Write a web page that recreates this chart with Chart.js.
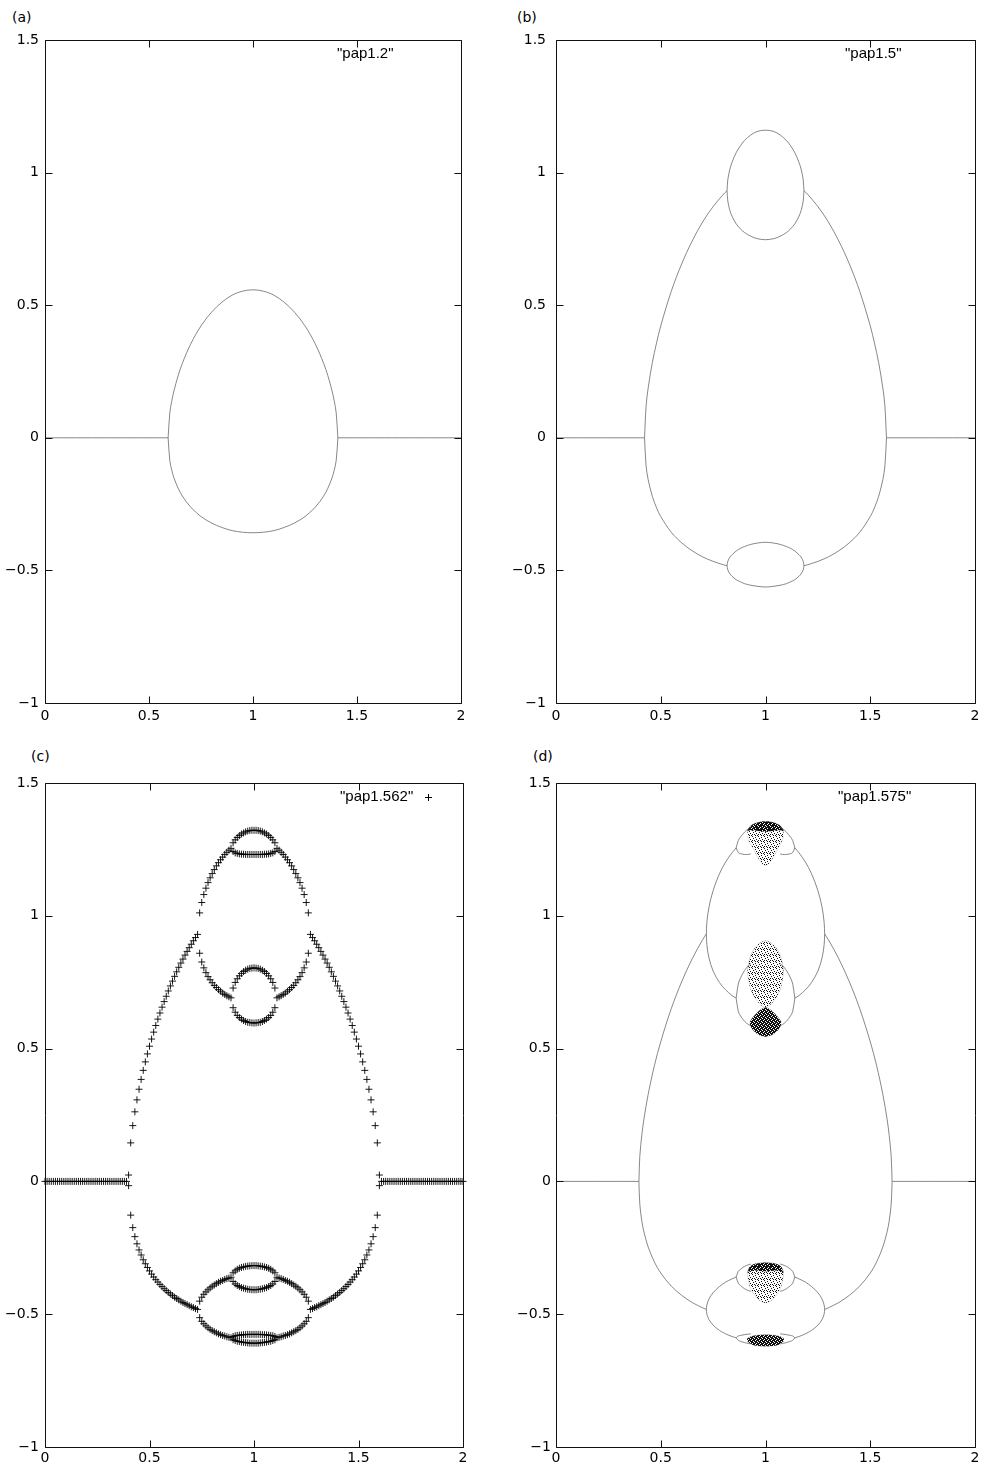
<!DOCTYPE html>
<html>
<head>
<meta charset="utf-8">
<script src="https://cdn.jsdelivr.net/npm/chart.js@4.4.1/dist/chart.umd.min.js"></script>
<style>
  body { margin: 0; background: #fff; width: 985px; height: 1470px; position: relative; overflow: hidden;
         font-family: "DejaVu Sans", Arial, sans-serif; }
  canvas { position: absolute; }
  .lab { position: absolute; font-size: 14px; line-height: 15px; color: #000; }
</style>
</head>
<body>
<div class="lab" style="left:12px;top:10px">(a)</div>
<div class="lab" style="left:517px;top:10px">(b)</div>
<div class="lab" style="left:31px;top:749px">(c)</div>
<div class="lab" style="left:533px;top:749px">(d)</div>
<canvas id="ca" width="492" height="735" style="left:0;top:0"></canvas>
<canvas id="cb" width="485" height="735" style="left:500px;top:0"></canvas>
<canvas id="cc" width="492" height="730" style="left:0;top:740px"></canvas>
<canvas id="cd" width="485" height="730" style="left:500px;top:740px"></canvas>
<script>
// ---- (a) pap1.2 ----
var a_zero_left = [0, 0.592];
var a_zero_right = [1.408, 2];
var a_zero_y = [0, 0];
var a_egg_x = [0.592, 0.600, 0.610, 0.620, 0.640, 0.660, 0.700, 0.750, 0.800, 0.850, 0.900, 0.950, 1.000,
               1.050, 1.100, 1.150, 1.200, 1.250, 1.300, 1.340, 1.360, 1.380, 1.390, 1.400, 1.408];
var a_egg_up = [0, 0.094, 0.141, 0.177, 0.234, 0.280, 0.353, 0.422, 0.473, 0.511, 0.538, 0.553, 0.558,
                0.553, 0.538, 0.511, 0.473, 0.422, 0.353, 0.280, 0.234, 0.177, 0.141, 0.094, 0];
var a_egg_lo = [0, -0.086, -0.124, -0.151, -0.190, -0.219, -0.261, -0.297, -0.321, -0.338, -0.350, -0.356, -0.358,
                -0.356, -0.350, -0.338, -0.321, -0.297, -0.261, -0.219, -0.190, -0.151, -0.124, -0.086, 0];

// ---- (b) pap1.5 ----
var b_zero_left = [0, 0.4226];
var b_zero_right = [1.5774, 2];
var b_zero_y = [0, 0];
var b_p2l_x = [0.4226, 0.43, 0.44, 0.46, 0.48, 0.50, 0.55, 0.60, 0.65, 0.70, 0.75, 0.80, 0.8165];
var b_p2l_up = [0, 0.119, 0.188, 0.284, 0.358, 0.422, 0.552, 0.656, 0.742, 0.814, 0.872, 0.919, 0.932];
var b_p2l_lo = [0, -0.106, -0.158, -0.221, -0.264, -0.297, -0.356, -0.396, -0.426, -0.449, -0.466, -0.479, -0.482];
var b_p2r_x = [1.1835, 1.20, 1.25, 1.30, 1.35, 1.40, 1.45, 1.50, 1.52, 1.54, 1.56, 1.57, 1.5774];
var b_p2r_up = [0.932, 0.919, 0.872, 0.814, 0.742, 0.656, 0.552, 0.422, 0.358, 0.284, 0.188, 0.119, 0];
var b_p2r_lo = [-0.482, -0.479, -0.466, -0.449, -0.426, -0.396, -0.356, -0.297, -0.264, -0.221, -0.158, -0.106, 0];
var b_p4_x = [0.8165, 0.82, 0.83, 0.84, 0.86, 0.88, 0.90, 0.93, 0.96, 1.00,
              1.04, 1.07, 1.10, 1.12, 1.14, 1.16, 1.17, 1.18, 1.1835];
var b_p4_a = [0.932, 0.973, 1.013, 1.038, 1.075, 1.101, 1.121, 1.142, 1.155, 1.160,
              1.155, 1.142, 1.121, 1.101, 1.075, 1.038, 1.013, 0.973, 0.932];
var b_p4_b = [0.932, 0.893, 0.857, 0.836, 0.807, 0.788, 0.774, 0.760, 0.751, 0.747,
              0.751, 0.760, 0.774, 0.788, 0.807, 0.836, 0.857, 0.893, 0.932];
var b_p4_c = [-0.482, -0.466, -0.450, -0.441, -0.427, -0.417, -0.410, -0.402, -0.397, -0.394,
              -0.397, -0.402, -0.410, -0.417, -0.427, -0.441, -0.450, -0.466, -0.482];
var b_p4_d = [-0.482, -0.498, -0.513, -0.522, -0.535, -0.543, -0.550, -0.556, -0.560, -0.5625,
              -0.560, -0.556, -0.550, -0.543, -0.535, -0.522, -0.513, -0.498, -0.482];

// ---- (c) pap1.562 (crosses every 0.01) ----
var c_flat_x = [0.00, 0.01, 0.02, 0.03, 0.04, 0.05, 0.06, 0.07, 0.08, 0.09, 0.10, 0.11, 0.12, 0.13, 0.14, 0.15,
                0.16, 0.17, 0.18, 0.19, 0.20, 0.21, 0.22, 0.23, 0.24, 0.25, 0.26, 0.27, 0.28, 0.29, 0.30, 0.31,
                0.32, 0.33, 0.34, 0.35, 0.36, 0.37, 0.38, 0.39,
                1.61, 1.62, 1.63, 1.64, 1.65, 1.66, 1.67, 1.68, 1.69, 1.70, 1.71, 1.72, 1.73, 1.74, 1.75, 1.76,
                1.77, 1.78, 1.79, 1.80, 1.81, 1.82, 1.83, 1.84, 1.85, 1.86, 1.87, 1.88, 1.89, 1.90, 1.91, 1.92,
                1.93, 1.94, 1.95, 1.96, 1.97, 1.98, 1.99, 2.00];
var c_flat_y = [0, 0, 0, 0, 0, 0, 0, 0, 0, 0, 0, 0, 0, 0, 0, 0, 0, 0, 0, 0,
                0, 0, 0, 0, 0, 0, 0, 0, 0, 0, 0, 0, 0, 0, 0, 0, 0, 0, 0, 0,
                0, 0, 0, 0, 0, 0, 0, 0, 0, 0, 0, 0, 0, 0, 0, 0, 0, 0, 0, 0,
                0, 0, 0, 0, 0, 0, 0, 0, 0, 0, 0, 0, 0, 0, 0, 0, 0, 0, 0, 0];
var c_edge_x = [0.40, 0.40, 1.60, 1.60];
var c_edge_y = [0.024, -0.016, 0.024, -0.016];
var c_p2_x = [0.41, 0.42, 0.43, 0.44, 0.45, 0.46, 0.47, 0.48, 0.49, 0.50, 0.51, 0.52, 0.53, 0.54, 0.55, 0.56, 0.57,
              0.58, 0.59, 0.60, 0.61, 0.62, 0.63, 0.64, 0.65, 0.66, 0.67, 0.68, 0.69, 0.70, 0.71, 0.72, 0.73,
              1.27, 1.28, 1.29, 1.30, 1.31, 1.32, 1.33, 1.34, 1.35, 1.36, 1.37, 1.38, 1.39, 1.40, 1.41, 1.42,
              1.43, 1.44, 1.45, 1.46, 1.47, 1.48, 1.49, 1.50, 1.51, 1.52, 1.53, 1.54, 1.55, 1.56, 1.57, 1.58, 1.59];
var c_p2_up = [0.145, 0.210, 0.262, 0.307, 0.347, 0.384, 0.418, 0.450, 0.480, 0.509, 0.536, 0.562, 0.587, 0.611,
               0.634, 0.656, 0.677, 0.697, 0.717, 0.736, 0.754, 0.772, 0.789, 0.806, 0.822, 0.837, 0.852, 0.866,
               0.880, 0.893, 0.906, 0.918, 0.930,
               0.930, 0.918, 0.906, 0.893, 0.880, 0.866, 0.852, 0.837, 0.822, 0.806, 0.789, 0.772, 0.754, 0.736,
               0.717, 0.697, 0.677, 0.656, 0.634, 0.611, 0.587, 0.562, 0.536, 0.509, 0.480, 0.450, 0.418, 0.384,
               0.347, 0.307, 0.262, 0.210, 0.145];
var c_p2_lo = [-0.127, -0.174, -0.208, -0.235, -0.258, -0.277, -0.295, -0.310, -0.324, -0.337, -0.349, -0.360,
               -0.370, -0.379, -0.388, -0.396, -0.404, -0.411, -0.418, -0.424, -0.430, -0.436, -0.441, -0.446,
               -0.451, -0.456, -0.460, -0.464, -0.468, -0.472, -0.475, -0.479, -0.482,
               -0.482, -0.479, -0.475, -0.472, -0.468, -0.464, -0.460, -0.456, -0.451, -0.446, -0.441, -0.436,
               -0.430, -0.424, -0.418, -0.411, -0.404, -0.396, -0.388, -0.379, -0.370, -0.360, -0.349, -0.337,
               -0.324, -0.310, -0.295, -0.277, -0.258, -0.235, -0.208, -0.174, -0.127];
var c_p4_x = [0.74, 0.75, 0.76, 0.77, 0.78, 0.79, 0.80, 0.81, 0.82, 0.83, 0.84, 0.85, 0.86, 0.87, 0.88, 0.89,
              1.11, 1.12, 1.13, 1.14, 1.15, 1.16, 1.17, 1.18, 1.19, 1.20, 1.21, 1.22, 1.23, 1.24, 1.25, 1.26];
var c_p4_a = [1.011, 1.050, 1.080, 1.104, 1.125, 1.143, 1.159, 1.174, 1.188, 1.200, 1.211, 1.221, 1.231, 1.239, 1.247, 1.254,
              1.254, 1.247, 1.239, 1.231, 1.221, 1.211, 1.200, 1.188, 1.174, 1.159, 1.143, 1.125, 1.104, 1.080, 1.050, 1.011];
var c_p4_b = [0.859, 0.826, 0.804, 0.786, 0.771, 0.759, 0.748, 0.738, 0.730, 0.722, 0.716, 0.709, 0.704, 0.699, 0.695, 0.691,
              0.691, 0.695, 0.699, 0.704, 0.709, 0.716, 0.722, 0.730, 0.738, 0.748, 0.759, 0.771, 0.786, 0.804, 0.826, 0.859];
var c_p4_c = [-0.451, -0.436, -0.425, -0.416, -0.408, -0.401, -0.395, -0.390, -0.385, -0.380, -0.376, -0.373, -0.369, -0.366, -0.364, -0.361,
              -0.361, -0.364, -0.366, -0.369, -0.373, -0.376, -0.380, -0.385, -0.390, -0.395, -0.401, -0.408, -0.416, -0.425, -0.436, -0.451];
var c_p4_d = [-0.513, -0.527, -0.536, -0.544, -0.551, -0.557, -0.562, -0.566, -0.570, -0.574, -0.577, -0.580, -0.582, -0.585, -0.587, -0.589,
              -0.589, -0.587, -0.585, -0.582, -0.580, -0.577, -0.574, -0.570, -0.566, -0.562, -0.557, -0.551, -0.544, -0.536, -0.527, -0.513];
var c_p8_x = [0.90, 0.91, 0.92, 0.93, 0.94, 0.95, 0.96, 0.97, 0.98, 0.99, 1.00, 1.01, 1.02, 1.03, 1.04, 1.05, 1.06, 1.07, 1.08, 1.09, 1.10];
var c_p8_1a = [1.275, 1.286, 1.295, 1.302, 1.308, 1.312, 1.316, 1.319, 1.321, 1.322, 1.322, 1.322, 1.321, 1.319, 1.316, 1.312, 1.308, 1.302, 1.295, 1.286, 1.275];
var c_p8_1b = [1.242, 1.237, 1.235, 1.233, 1.232, 1.232, 1.231, 1.231, 1.231, 1.231, 1.231, 1.231, 1.231, 1.231, 1.231, 1.232, 1.232, 1.233, 1.235, 1.237, 1.242];
var c_p8_2a = [0.728, 0.749, 0.763, 0.774, 0.783, 0.790, 0.795, 0.799, 0.802, 0.803, 0.804, 0.803, 0.802, 0.799, 0.795, 0.790, 0.783, 0.774, 0.763, 0.749, 0.728];
var c_p8_2b = [0.654, 0.637, 0.625, 0.617, 0.611, 0.606, 0.602, 0.599, 0.598, 0.597, 0.596, 0.597, 0.598, 0.599, 0.602, 0.606, 0.611, 0.617, 0.625, 0.637, 0.654];
var c_p8_3a = [-0.344, -0.337, -0.331, -0.327, -0.324, -0.322, -0.320, -0.319, -0.318, -0.317, -0.317, -0.317, -0.318, -0.319, -0.320, -0.322, -0.324, -0.327, -0.331, -0.337, -0.344];
var c_p8_3b = [-0.377, -0.386, -0.392, -0.396, -0.400, -0.402, -0.404, -0.406, -0.407, -0.408, -0.408, -0.408, -0.407, -0.406, -0.404, -0.402, -0.400, -0.396, -0.392, -0.386, -0.377];
var c_p8_4a = [-0.584, -0.581, -0.580, -0.579, -0.578, -0.577, -0.577, -0.576, -0.576, -0.576, -0.576, -0.576, -0.576, -0.576, -0.577, -0.577, -0.578, -0.579, -0.580, -0.581, -0.584];
var c_p8_4b = [-0.596, -0.599, -0.602, -0.603, -0.605, -0.606, -0.607, -0.608, -0.609, -0.609, -0.609, -0.609, -0.609, -0.608, -0.607, -0.606, -0.605, -0.603, -0.602, -0.599, -0.596];

// ---- (d) pap1.575 ----
var d_zero_left = [0, 0.3958];
var d_zero_right = [1.6042, 2];
var d_zero_y = [0, 0];
var d_p2l_x = [0.3958, 0.40, 0.41, 0.42, 0.44, 0.47, 0.50, 0.55, 0.60, 0.65, 0.70, 0.7177];
var d_p2l_up = [0, 0.094, 0.177, 0.236, 0.328, 0.437, 0.526, 0.650, 0.752, 0.838, 0.910, 0.932];
var d_p2l_lo = [0, -0.086, -0.151, -0.191, -0.247, -0.304, -0.345, -0.394, -0.429, -0.456, -0.476, -0.482];
var d_p2r_x = [1.2823, 1.30, 1.35, 1.40, 1.45, 1.50, 1.53, 1.56, 1.58, 1.59, 1.60, 1.6042];
var d_p2r_up = [0.932, 0.910, 0.838, 0.752, 0.650, 0.526, 0.437, 0.328, 0.236, 0.177, 0.094, 0];
var d_p2r_lo = [-0.482, -0.476, -0.456, -0.429, -0.394, -0.345, -0.304, -0.247, -0.191, -0.151, -0.086, 0];
var d_p4l_x = [0.7177, 0.72, 0.73, 0.75, 0.78, 0.81, 0.84, 0.86];
var d_p4r_x = [1.14, 1.16, 1.19, 1.22, 1.25, 1.27, 1.28, 1.2823];
var d_p4_a = [0.932, 0.974, 1.032, 1.095, 1.158, 1.203, 1.237, 1.256];
var d_p4_b = [0.932, 0.892, 0.842, 0.792, 0.749, 0.721, 0.700, 0.690];
var d_p4_c = [-0.482, -0.466, -0.443, -0.419, -0.396, -0.379, -0.367, -0.360];
var d_p4_d = [-0.482, -0.499, -0.520, -0.541, -0.561, -0.574, -0.584, -0.589];
var d_p4r_a = [1.256, 1.237, 1.203, 1.158, 1.095, 1.032, 0.974, 0.932];
var d_p4r_b = [0.690, 0.700, 0.721, 0.749, 0.792, 0.842, 0.892, 0.932];
var d_p4r_c = [-0.360, -0.367, -0.379, -0.396, -0.419, -0.443, -0.466, -0.482];
var d_p4r_d = [-0.589, -0.584, -0.574, -0.561, -0.541, -0.520, -0.499, -0.482];
var d_p8l_x = [0.86, 0.87, 0.88, 0.90, 0.918, 0.93];
var d_p8r_x = [1.07, 1.082, 1.10, 1.12, 1.13, 1.14];
var d_p8_1a = [1.256, 1.283, 1.296, 1.315, 1.328, 1.334];
var d_p8_1b = [1.256, 1.238, 1.234, 1.231, 1.231, 1.233];
var d_p8_2a = [0.690, 0.743, 0.765, 0.794, 0.812, 0.820];
var d_p8_2b = [0.690, 0.641, 0.624, 0.603, 0.591, 0.586];
var d_p8_3a = [-0.360, -0.339, -0.331, -0.320, -0.314, -0.311];
var d_p8_3b = [-0.360, -0.383, -0.392, -0.404, -0.411, -0.414];
var d_p8_4a = [-0.589, -0.582, -0.580, -0.577, -0.575, -0.574];
var d_p8_4b = [-0.589, -0.598, -0.602, -0.607, -0.610, -0.612];
var d_p8r_1a = [1.334, 1.328, 1.315, 1.296, 1.283, 1.256];
var d_p8r_1b = [1.233, 1.231, 1.231, 1.234, 1.238, 1.256];
var d_p8r_2a = [0.820, 0.812, 0.794, 0.765, 0.743, 0.690];
var d_p8r_2b = [0.586, 0.591, 0.603, 0.624, 0.641, 0.690];
var d_p8r_3a = [-0.311, -0.314, -0.320, -0.331, -0.339, -0.360];
var d_p8r_3b = [-0.414, -0.411, -0.404, -0.392, -0.383, -0.360];
var d_p8r_4a = [-0.574, -0.575, -0.577, -0.580, -0.582, -0.589];
var d_p8r_4b = [-0.612, -0.610, -0.607, -0.602, -0.598, -0.589];
// chaotic bands near x = 1 (edges of the dense regions)
var d_band_x = [0.913, 0.925, 0.94, 0.96, 0.98, 1.00, 1.02, 1.04, 1.06, 1.075, 1.087];
var d_top_up = [1.318, 1.335, 1.344, 1.350, 1.354, 1.355, 1.354, 1.350, 1.344, 1.335, 1.318];
var d_top_lo = [1.300, 1.275, 1.255, 1.225, 1.200, 1.190, 1.200, 1.225, 1.255, 1.275, 1.300];
var d_top_cap = [1.318, 1.322, 1.322, 1.320, 1.318, 1.316, 1.318, 1.320, 1.322, 1.322, 1.318];
var d_mid1_up = [0.790, 0.840, 0.868, 0.888, 0.900, 0.906, 0.900, 0.888, 0.868, 0.840, 0.790];
var d_mid1_lo = [0.790, 0.735, 0.705, 0.680, 0.663, 0.655, 0.663, 0.680, 0.705, 0.735, 0.790];
var d_low1_up = [-0.345, -0.322, -0.314, -0.309, -0.307, -0.306, -0.307, -0.309, -0.314, -0.322, -0.345];
var d_low1_lo = [-0.345, -0.395, -0.418, -0.440, -0.452, -0.457, -0.452, -0.440, -0.418, -0.395, -0.345];
var d_low1_cap = [-0.345, -0.338, -0.336, -0.336, -0.337, -0.338, -0.337, -0.336, -0.336, -0.338, -0.345];
var d_band2_x = [0.925, 0.94, 0.96, 0.98, 1.00, 1.02, 1.04, 1.06, 1.075];
var d_mid2_up = [0.600, 0.618, 0.635, 0.648, 0.655, 0.648, 0.635, 0.618, 0.600];
var d_mid2_lo = [0.590, 0.570, 0.556, 0.548, 0.545, 0.548, 0.556, 0.570, 0.590];
var d_band3_x = [0.912, 0.93, 0.95, 0.97, 1.00, 1.03, 1.05, 1.07, 1.088];
var d_low2_up = [-0.592, -0.584, -0.580, -0.578, -0.577, -0.578, -0.580, -0.584, -0.592];
var d_low2_lo = [-0.600, -0.612, -0.618, -0.620, -0.621, -0.620, -0.618, -0.612, -0.600];

var xTicks = [0, 0.5, 1, 1.5, 2];
var yTicks = [-1, -0.5, 0, 0.5, 1, 1.5];

Chart.defaults.font.family = '"DejaVu Sans", Arial, sans-serif';
Chart.defaults.font.size = 14;
Chart.defaults.color = '#000';

function pts(xs, ys) {
  return xs.map(function (x, i) { return { x: x, y: ys[i] }; });
}
function curve(xs, ys) {
  return { type: 'line', data: pts(xs, ys), borderColor: '#6a6a6a', borderWidth: 0.8,
           pointRadius: 0, tension: 0.35, fill: false };
}
function edge(xs, ys) {
  return { type: 'line', data: pts(xs, ys), borderColor: 'rgba(0,0,0,0.25)', borderWidth: 0.5,
           pointRadius: 0, tension: 0.35, fill: false };
}
function area(xs, ys, fillStyle) {
  return { type: 'line', data: pts(xs, ys), borderColor: 'rgba(0,0,0,0.35)', borderWidth: 0.5,
           pointRadius: 0, tension: 0.35, fill: '-1', backgroundColor: fillStyle };
}
// stipple texture for the dense chaotic regions
function stipple(dots, size) {
  var c = document.createElement('canvas');
  c.width = size; c.height = size;
  var g = c.getContext('2d');
  g.fillStyle = '#111';
  dots.forEach(function (p) { g.fillRect(p[0], p[1], 1, 1); });
  return g.createPattern(c, 'repeat');
}
var lightDots = stipple([[0, 0], [3, 1], [1, 2], [4, 3], [2, 4], [5, 5], [0, 4], [3, 5]], 6);
var darkDots = stipple([[0, 0], [1, 0], [2, 1], [3, 1], [0, 2], [3, 2], [1, 3], [2, 3], [0, 1], [2, 0], [1, 2], [3, 3]], 4);

// frame, inward ticks on four sides, key text
var framePlugin = {
  id: 'frame',
  afterDraw: function (chart, args, o) {
    var ctx = chart.ctx, a = chart.chartArea, sx = chart.scales.x, sy = chart.scales.y;
    var L = Math.round(a.left) + 0.5, R = Math.round(a.right) + 0.5;
    var T = Math.round(a.top) + 0.5, B = Math.round(a.bottom) + 0.5;
    ctx.save();
    ctx.strokeStyle = '#111';
    ctx.lineWidth = 1;
    ctx.beginPath();
    ctx.rect(L, T, R - L, B - T);
    xTicks.forEach(function (v) {
      var p = Math.round(sx.getPixelForValue(v)) + 0.5;
      ctx.moveTo(p, B); ctx.lineTo(p, B - 7);
      ctx.moveTo(p, T); ctx.lineTo(p, T + 7);
    });
    yTicks.forEach(function (v) {
      var p = Math.round(sy.getPixelForValue(v)) + 0.5;
      ctx.moveTo(L, p); ctx.lineTo(L + 7, p);
      ctx.moveTo(R, p); ctx.lineTo(R - 7, p);
    });
    ctx.stroke();
    ctx.font = '15px "Liberation Sans", Arial, sans-serif';
    ctx.fillStyle = '#000';
    ctx.textBaseline = 'middle';
    ctx.textAlign = 'left';
    ctx.fillText(o.key, a.left + o.dx, a.top + o.dy);
    if (o.sample) {
      var cx = Math.round(a.left + o.sample) + 0.5, cy = Math.round(a.top + o.dy) + 0.5;
      ctx.beginPath();
      ctx.moveTo(cx - 3.5, cy); ctx.lineTo(cx + 3.5, cy);
      ctx.moveTo(cx, cy - 3.5); ctx.lineTo(cx, cy + 3.5);
      ctx.strokeStyle = '#000';
      ctx.stroke();
    }
    ctx.restore();
  }
};

function fmt(v) { return String(v).replace('-', '\u2212'); }

function makeChart(id, datasets, cfg) {
  return new Chart(document.getElementById(id), {
    type: 'scatter',
    data: { datasets: datasets },
    options: {
      responsive: false,
      animation: false,
      devicePixelRatio: 1,
      events: [],
      layout: { padding: { left: 0, top: cfg.top, right: cfg.right, bottom: 0 } },
      plugins: { legend: { display: false }, tooltip: { enabled: false }, frame: cfg.frame },
      scales: {
        x: {
          type: 'linear', min: 0, max: 2,
          grid: { display: false, drawTicks: false }, border: { display: false },
          ticks: { stepSize: 0.5, autoSkip: false, maxRotation: 0, padding: cfg.xPad, callback: fmt },
          afterFit: function (s) { s.height = cfg.xH; }
        },
        y: {
          type: 'linear', min: -1, max: 1.5,
          grid: { display: false, drawTicks: false }, border: { display: false },
          ticks: { stepSize: 0.5, autoSkip: false, padding: cfg.yPad, callback: fmt },
          afterFit: function (s) { s.width = cfg.yW; }
        }
      }
    },
    plugins: [framePlugin]
  });
}

// (a)
makeChart('ca', [
  curve(a_zero_left, a_zero_y), curve(a_zero_right, a_zero_y),
  curve(a_egg_x, a_egg_up), curve(a_egg_x, a_egg_lo)
], { top: 40, right: 31, xH: 32, yW: 45, xPad: 5, yPad: 6, frame: { key: '"pap1.2"', dx: 292, dy: 14 } });

// (b)
makeChart('cb', [
  curve(b_zero_left, b_zero_y), curve(b_zero_right, b_zero_y),
  curve(b_p2l_x, b_p2l_up), curve(b_p2l_x, b_p2l_lo),
  curve(b_p2r_x, b_p2r_up), curve(b_p2r_x, b_p2r_lo),
  curve(b_p4_x, b_p4_a), curve(b_p4_x, b_p4_b), curve(b_p4_x, b_p4_c), curve(b_p4_x, b_p4_d)
], { top: 40, right: 10, xH: 32, yW: 56, xPad: 5, yPad: 10, frame: { key: '"pap1.5"', dx: 289, dy: 14 } });

// (c)
var c_points = [].concat(
  pts(c_flat_x, c_flat_y), pts(c_edge_x, c_edge_y),
  pts(c_p2_x, c_p2_up), pts(c_p2_x, c_p2_lo),
  pts(c_p4_x, c_p4_a), pts(c_p4_x, c_p4_b), pts(c_p4_x, c_p4_c), pts(c_p4_x, c_p4_d),
  pts(c_p8_x, c_p8_1a), pts(c_p8_x, c_p8_1b), pts(c_p8_x, c_p8_2a), pts(c_p8_x, c_p8_2b),
  pts(c_p8_x, c_p8_3a), pts(c_p8_x, c_p8_3b), pts(c_p8_x, c_p8_4a), pts(c_p8_x, c_p8_4b)
);
makeChart('cc', [
  { type: 'scatter', data: c_points, pointStyle: 'cross', pointRadius: 3.5, borderWidth: 1,
    borderColor: 'rgba(0,0,0,0.9)', backgroundColor: 'rgba(0,0,0,0)', clip: false }
], { top: 43, right: 29, xH: 23, yW: 45, xPad: 3, yPad: 6, frame: { key: '"pap1.562"', dx: 295, dy: 14, sample: 383 } });

// (d)
makeChart('cd', [
  curve(d_zero_left, d_zero_y), curve(d_zero_right, d_zero_y),
  curve(d_p2l_x, d_p2l_up), curve(d_p2l_x, d_p2l_lo),
  curve(d_p2r_x, d_p2r_up), curve(d_p2r_x, d_p2r_lo),
  curve(d_p4l_x, d_p4_a), curve(d_p4l_x, d_p4_b), curve(d_p4l_x, d_p4_c), curve(d_p4l_x, d_p4_d),
  curve(d_p4r_x, d_p4r_a), curve(d_p4r_x, d_p4r_b), curve(d_p4r_x, d_p4r_c), curve(d_p4r_x, d_p4r_d),
  curve(d_p8l_x, d_p8_1a), curve(d_p8l_x, d_p8_1b), curve(d_p8l_x, d_p8_2a), curve(d_p8l_x, d_p8_2b),
  curve(d_p8l_x, d_p8_3a), curve(d_p8l_x, d_p8_3b), curve(d_p8l_x, d_p8_4a), curve(d_p8l_x, d_p8_4b),
  curve(d_p8r_x, d_p8r_1a), curve(d_p8r_x, d_p8r_1b), curve(d_p8r_x, d_p8r_2a), curve(d_p8r_x, d_p8r_2b),
  curve(d_p8r_x, d_p8r_3a), curve(d_p8r_x, d_p8r_3b), curve(d_p8r_x, d_p8r_4a), curve(d_p8r_x, d_p8r_4b),
  edge(d_band_x, d_top_lo), area(d_band_x, d_top_up, lightDots),
  edge(d_band_x, d_top_cap), area(d_band_x, d_top_up, darkDots),
  edge(d_band_x, d_mid1_lo), area(d_band_x, d_mid1_up, lightDots),
  edge(d_band2_x, d_mid2_lo), area(d_band2_x, d_mid2_up, darkDots),
  edge(d_band_x, d_low1_lo), area(d_band_x, d_low1_up, lightDots),
  edge(d_band_x, d_low1_cap), area(d_band_x, d_low1_up, darkDots),
  edge(d_band3_x, d_low2_lo), area(d_band3_x, d_low2_up, darkDots)
], { top: 43, right: 10, xH: 23, yW: 56, xPad: 3, yPad: 5, frame: { key: '"pap1.575"', dx: 282, dy: 14 } });
</script>
</body>
</html>
